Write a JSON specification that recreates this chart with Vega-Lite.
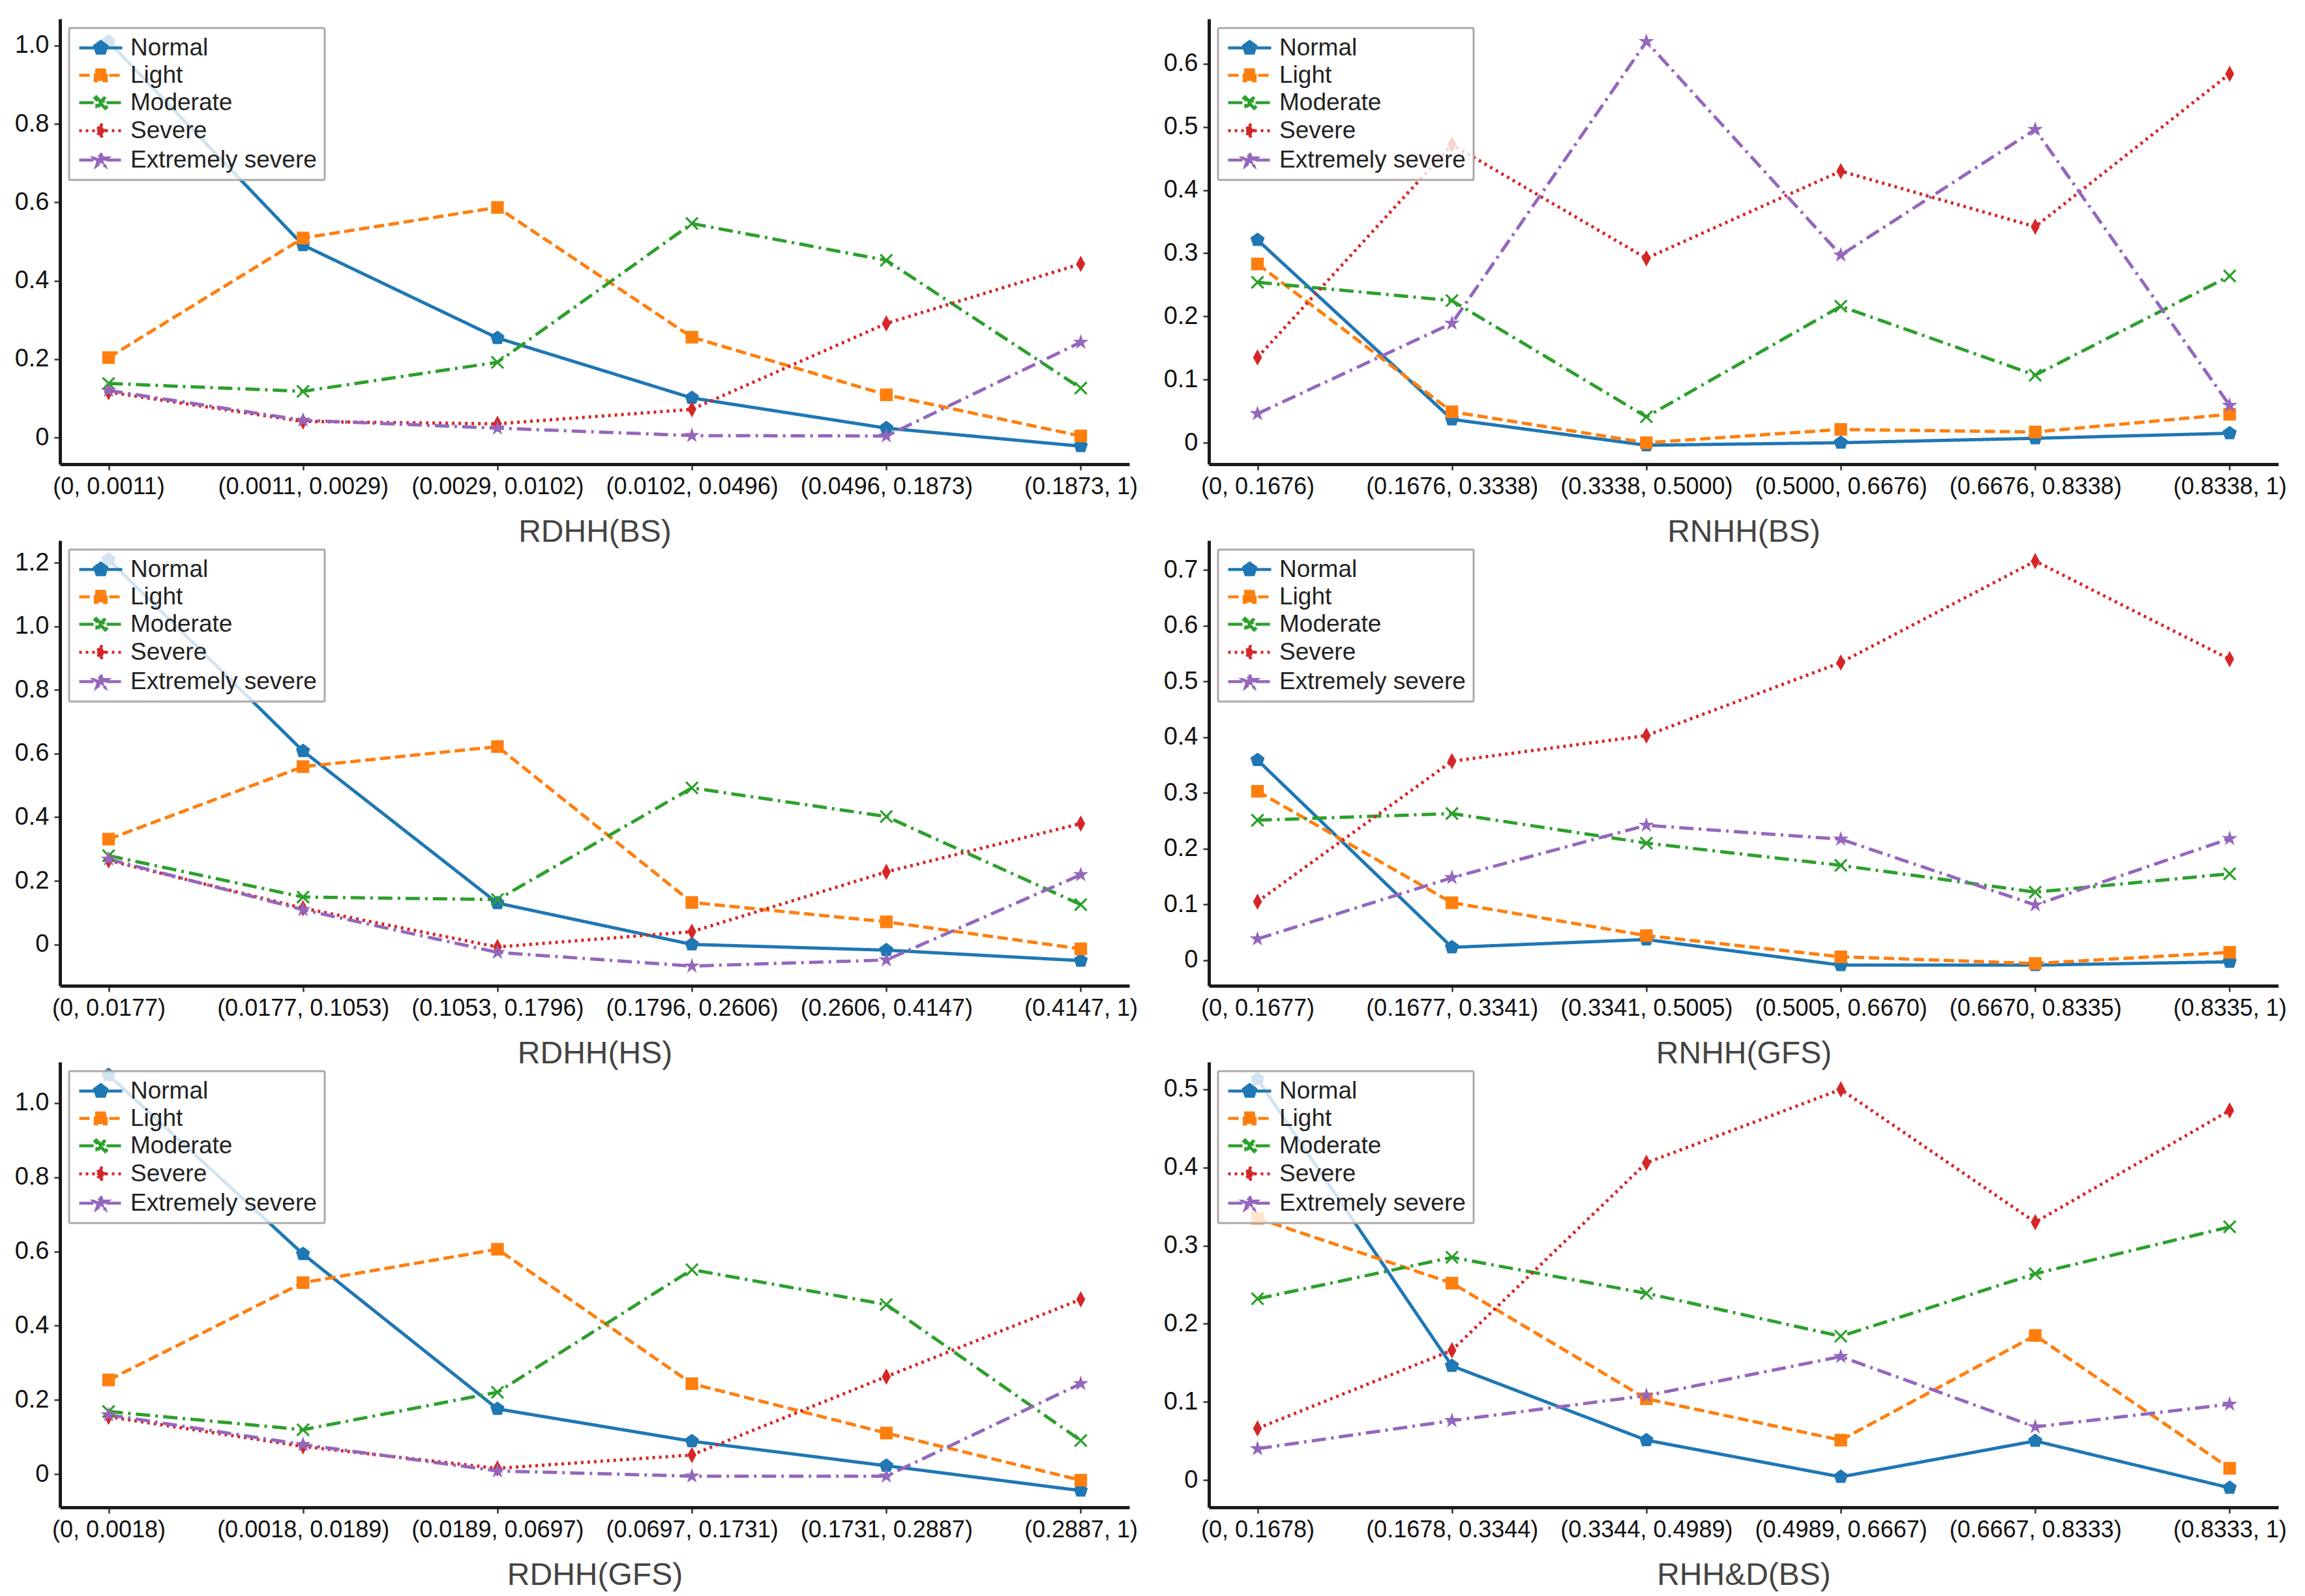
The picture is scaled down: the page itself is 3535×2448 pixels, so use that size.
{
  "$schema": "https://vega.github.io/schema/vega-lite/v6.json",
  "background": "white",
  "padding": {"left": 22, "top": 29, "right": 10, "bottom": 10},
  "bounds": "flush",
  "columns": 2,
  "spacing": {"row": 117, "column": 122},
  "resolve": {"legend": {"color": "independent"}},
  "config": {
    "view": {"stroke": null},
    "axis": {"grid": false, "domainColor": "#1a1a1a", "domainWidth": 5, "tickColor": "#333333", "tickWidth": 2.5, "tickSize": 9, "labelFont": "Liberation Sans", "labelColor": "#111111", "titleFont": "Liberation Sans", "titleColor": "#444444", "titleFontWeight": "normal"},
    "axisX": {"labelFontSize": 36, "labelAngle": 0, "labelPadding": 8, "labelLimit": 600, "titleFontSize": 48, "titlePadding": 28},
    "axisY": {"labelFontSize": 38, "labelPadding": 8},
    "legend": {"orient": "top-left", "offset": 14, "padding": 12, "fillColor": "rgba(255,255,255,0.8)", "strokeColor": "#b0a8a8", "strokeWidth": 3, "cornerRadius": 2, "labelFont": "Liberation Sans", "labelFontSize": 37, "labelColor": "#222222", "labelLimit": 600, "symbolSize": 484, "symbolStrokeWidth": 4, "symbolOffset": 18, "rowPadding": 4, "labelOffset": 27}
  },
  "datasets": {
    "p1": [
      {"interval": "(0, 0.0011)", "level": "Normal", "value": 1.01},
      {"interval": "(0.0011, 0.0029)", "level": "Normal", "value": 0.491},
      {"interval": "(0.0029, 0.0102)", "level": "Normal", "value": 0.254},
      {"interval": "(0.0102, 0.0496)", "level": "Normal", "value": 0.101},
      {"interval": "(0.0496, 0.1873)", "level": "Normal", "value": 0.024},
      {"interval": "(0.1873, 1)", "level": "Normal", "value": -0.022},
      {"interval": "(0, 0.0011)", "level": "Light", "value": 0.204},
      {"interval": "(0.0011, 0.0029)", "level": "Light", "value": 0.509},
      {"interval": "(0.0029, 0.0102)", "level": "Light", "value": 0.587},
      {"interval": "(0.0102, 0.0496)", "level": "Light", "value": 0.256},
      {"interval": "(0.0496, 0.1873)", "level": "Light", "value": 0.109},
      {"interval": "(0.1873, 1)", "level": "Light", "value": 0.004},
      {"interval": "(0, 0.0011)", "level": "Moderate", "value": 0.138},
      {"interval": "(0.0011, 0.0029)", "level": "Moderate", "value": 0.118},
      {"interval": "(0.0029, 0.0102)", "level": "Moderate", "value": 0.192},
      {"interval": "(0.0102, 0.0496)", "level": "Moderate", "value": 0.546},
      {"interval": "(0.0496, 0.1873)", "level": "Moderate", "value": 0.452},
      {"interval": "(0.1873, 1)", "level": "Moderate", "value": 0.126},
      {"interval": "(0, 0.0011)", "level": "Severe", "value": 0.116},
      {"interval": "(0.0011, 0.0029)", "level": "Severe", "value": 0.041},
      {"interval": "(0.0029, 0.0102)", "level": "Severe", "value": 0.035},
      {"interval": "(0.0102, 0.0496)", "level": "Severe", "value": 0.072},
      {"interval": "(0.0496, 0.1873)", "level": "Severe", "value": 0.291},
      {"interval": "(0.1873, 1)", "level": "Severe", "value": 0.443},
      {"interval": "(0, 0.0011)", "level": "Extremely severe", "value": 0.12},
      {"interval": "(0.0011, 0.0029)", "level": "Extremely severe", "value": 0.044},
      {"interval": "(0.0029, 0.0102)", "level": "Extremely severe", "value": 0.024},
      {"interval": "(0.0102, 0.0496)", "level": "Extremely severe", "value": 0.005},
      {"interval": "(0.0496, 0.1873)", "level": "Extremely severe", "value": 0.004},
      {"interval": "(0.1873, 1)", "level": "Extremely severe", "value": 0.243}
    ],
    "p2": [
      {"interval": "(0, 0.1676)", "level": "Normal", "value": 0.321},
      {"interval": "(0.1676, 0.3338)", "level": "Normal", "value": 0.037},
      {"interval": "(0.3338, 0.5000)", "level": "Normal", "value": -0.004},
      {"interval": "(0.5000, 0.6676)", "level": "Normal", "value": 0.0},
      {"interval": "(0.6676, 0.8338)", "level": "Normal", "value": 0.007},
      {"interval": "(0.8338, 1)", "level": "Normal", "value": 0.015},
      {"interval": "(0, 0.1676)", "level": "Light", "value": 0.283},
      {"interval": "(0.1676, 0.3338)", "level": "Light", "value": 0.049},
      {"interval": "(0.3338, 0.5000)", "level": "Light", "value": 0.0},
      {"interval": "(0.5000, 0.6676)", "level": "Light", "value": 0.021},
      {"interval": "(0.6676, 0.8338)", "level": "Light", "value": 0.017},
      {"interval": "(0.8338, 1)", "level": "Light", "value": 0.045},
      {"interval": "(0, 0.1676)", "level": "Moderate", "value": 0.254},
      {"interval": "(0.1676, 0.3338)", "level": "Moderate", "value": 0.225},
      {"interval": "(0.3338, 0.5000)", "level": "Moderate", "value": 0.041},
      {"interval": "(0.5000, 0.6676)", "level": "Moderate", "value": 0.216},
      {"interval": "(0.6676, 0.8338)", "level": "Moderate", "value": 0.107},
      {"interval": "(0.8338, 1)", "level": "Moderate", "value": 0.264},
      {"interval": "(0, 0.1676)", "level": "Severe", "value": 0.135},
      {"interval": "(0.1676, 0.3338)", "level": "Severe", "value": 0.472},
      {"interval": "(0.3338, 0.5000)", "level": "Severe", "value": 0.292},
      {"interval": "(0.5000, 0.6676)", "level": "Severe", "value": 0.43},
      {"interval": "(0.6676, 0.8338)", "level": "Severe", "value": 0.342},
      {"interval": "(0.8338, 1)", "level": "Severe", "value": 0.584},
      {"interval": "(0, 0.1676)", "level": "Extremely severe", "value": 0.046},
      {"interval": "(0.1676, 0.3338)", "level": "Extremely severe", "value": 0.189},
      {"interval": "(0.3338, 0.5000)", "level": "Extremely severe", "value": 0.635},
      {"interval": "(0.5000, 0.6676)", "level": "Extremely severe", "value": 0.297},
      {"interval": "(0.6676, 0.8338)", "level": "Extremely severe", "value": 0.496},
      {"interval": "(0.8338, 1)", "level": "Extremely severe", "value": 0.059}
    ],
    "p3": [
      {"interval": "(0, 0.0177)", "level": "Normal", "value": 1.21},
      {"interval": "(0.0177, 0.1053)", "level": "Normal", "value": 0.608},
      {"interval": "(0.1053, 0.1796)", "level": "Normal", "value": 0.13},
      {"interval": "(0.1796, 0.2606)", "level": "Normal", "value": 0.0},
      {"interval": "(0.2606, 0.4147)", "level": "Normal", "value": -0.018},
      {"interval": "(0.4147, 1)", "level": "Normal", "value": -0.051},
      {"interval": "(0, 0.0177)", "level": "Light", "value": 0.331},
      {"interval": "(0.0177, 0.1053)", "level": "Light", "value": 0.559},
      {"interval": "(0.1053, 0.1796)", "level": "Light", "value": 0.622},
      {"interval": "(0.1796, 0.2606)", "level": "Light", "value": 0.132},
      {"interval": "(0.2606, 0.4147)", "level": "Light", "value": 0.071},
      {"interval": "(0.4147, 1)", "level": "Light", "value": -0.014},
      {"interval": "(0, 0.0177)", "level": "Moderate", "value": 0.279},
      {"interval": "(0.0177, 0.1053)", "level": "Moderate", "value": 0.149},
      {"interval": "(0.1053, 0.1796)", "level": "Moderate", "value": 0.141},
      {"interval": "(0.1796, 0.2606)", "level": "Moderate", "value": 0.492},
      {"interval": "(0.2606, 0.4147)", "level": "Moderate", "value": 0.402},
      {"interval": "(0.4147, 1)", "level": "Moderate", "value": 0.125},
      {"interval": "(0, 0.0177)", "level": "Severe", "value": 0.264},
      {"interval": "(0.0177, 0.1053)", "level": "Severe", "value": 0.114},
      {"interval": "(0.1053, 0.1796)", "level": "Severe", "value": -0.008},
      {"interval": "(0.1796, 0.2606)", "level": "Severe", "value": 0.04},
      {"interval": "(0.2606, 0.4147)", "level": "Severe", "value": 0.228},
      {"interval": "(0.4147, 1)", "level": "Severe", "value": 0.38},
      {"interval": "(0, 0.0177)", "level": "Extremely severe", "value": 0.268},
      {"interval": "(0.0177, 0.1053)", "level": "Extremely severe", "value": 0.109},
      {"interval": "(0.1053, 0.1796)", "level": "Extremely severe", "value": -0.025},
      {"interval": "(0.1796, 0.2606)", "level": "Extremely severe", "value": -0.068},
      {"interval": "(0.2606, 0.4147)", "level": "Extremely severe", "value": -0.049},
      {"interval": "(0.4147, 1)", "level": "Extremely severe", "value": 0.219}
    ],
    "p4": [
      {"interval": "(0, 0.1677)", "level": "Normal", "value": 0.359},
      {"interval": "(0.1677, 0.3341)", "level": "Normal", "value": 0.023},
      {"interval": "(0.3341, 0.5005)", "level": "Normal", "value": 0.037},
      {"interval": "(0.5005, 0.6670)", "level": "Normal", "value": -0.009},
      {"interval": "(0.6670, 0.8335)", "level": "Normal", "value": -0.009},
      {"interval": "(0.8335, 1)", "level": "Normal", "value": -0.003},
      {"interval": "(0, 0.1677)", "level": "Light", "value": 0.303},
      {"interval": "(0.1677, 0.3341)", "level": "Light", "value": 0.103},
      {"interval": "(0.3341, 0.5005)", "level": "Light", "value": 0.044},
      {"interval": "(0.5005, 0.6670)", "level": "Light", "value": 0.006},
      {"interval": "(0.6670, 0.8335)", "level": "Light", "value": -0.006},
      {"interval": "(0.8335, 1)", "level": "Light", "value": 0.014},
      {"interval": "(0, 0.1677)", "level": "Moderate", "value": 0.251},
      {"interval": "(0.1677, 0.3341)", "level": "Moderate", "value": 0.263},
      {"interval": "(0.3341, 0.5005)", "level": "Moderate", "value": 0.21},
      {"interval": "(0.5005, 0.6670)", "level": "Moderate", "value": 0.17},
      {"interval": "(0.6670, 0.8335)", "level": "Moderate", "value": 0.122},
      {"interval": "(0.8335, 1)", "level": "Moderate", "value": 0.155},
      {"interval": "(0, 0.1677)", "level": "Severe", "value": 0.105},
      {"interval": "(0.1677, 0.3341)", "level": "Severe", "value": 0.357},
      {"interval": "(0.3341, 0.5005)", "level": "Severe", "value": 0.403},
      {"interval": "(0.5005, 0.6670)", "level": "Severe", "value": 0.534},
      {"interval": "(0.6670, 0.8335)", "level": "Severe", "value": 0.716},
      {"interval": "(0.8335, 1)", "level": "Severe", "value": 0.54},
      {"interval": "(0, 0.1677)", "level": "Extremely severe", "value": 0.038},
      {"interval": "(0.1677, 0.3341)", "level": "Extremely severe", "value": 0.148},
      {"interval": "(0.3341, 0.5005)", "level": "Extremely severe", "value": 0.242},
      {"interval": "(0.5005, 0.6670)", "level": "Extremely severe", "value": 0.217},
      {"interval": "(0.6670, 0.8335)", "level": "Extremely severe", "value": 0.099},
      {"interval": "(0.8335, 1)", "level": "Extremely severe", "value": 0.218}
    ],
    "p5": [
      {"interval": "(0, 0.0018)", "level": "Normal", "value": 1.075},
      {"interval": "(0.0018, 0.0189)", "level": "Normal", "value": 0.593},
      {"interval": "(0.0189, 0.0697)", "level": "Normal", "value": 0.176},
      {"interval": "(0.0697, 0.1731)", "level": "Normal", "value": 0.089},
      {"interval": "(0.1731, 0.2887)", "level": "Normal", "value": 0.023},
      {"interval": "(0.2887, 1)", "level": "Normal", "value": -0.044},
      {"interval": "(0, 0.0018)", "level": "Light", "value": 0.254},
      {"interval": "(0.0018, 0.0189)", "level": "Light", "value": 0.516},
      {"interval": "(0.0189, 0.0697)", "level": "Light", "value": 0.606},
      {"interval": "(0.0697, 0.1731)", "level": "Light", "value": 0.244},
      {"interval": "(0.1731, 0.2887)", "level": "Light", "value": 0.111},
      {"interval": "(0.2887, 1)", "level": "Light", "value": -0.016},
      {"interval": "(0, 0.0018)", "level": "Moderate", "value": 0.169},
      {"interval": "(0.0018, 0.0189)", "level": "Moderate", "value": 0.12},
      {"interval": "(0.0189, 0.0697)", "level": "Moderate", "value": 0.221},
      {"interval": "(0.0697, 0.1731)", "level": "Moderate", "value": 0.551},
      {"interval": "(0.1731, 0.2887)", "level": "Moderate", "value": 0.457},
      {"interval": "(0.2887, 1)", "level": "Moderate", "value": 0.091},
      {"interval": "(0, 0.0018)", "level": "Severe", "value": 0.155},
      {"interval": "(0.0018, 0.0189)", "level": "Severe", "value": 0.075},
      {"interval": "(0.0189, 0.0697)", "level": "Severe", "value": 0.016},
      {"interval": "(0.0697, 0.1731)", "level": "Severe", "value": 0.052},
      {"interval": "(0.1731, 0.2887)", "level": "Severe", "value": 0.263},
      {"interval": "(0.2887, 1)", "level": "Severe", "value": 0.471},
      {"interval": "(0, 0.0018)", "level": "Extremely severe", "value": 0.16},
      {"interval": "(0.0018, 0.0189)", "level": "Extremely severe", "value": 0.08},
      {"interval": "(0.0189, 0.0697)", "level": "Extremely severe", "value": 0.009},
      {"interval": "(0.0697, 0.1731)", "level": "Extremely severe", "value": -0.005},
      {"interval": "(0.1731, 0.2887)", "level": "Extremely severe", "value": -0.005},
      {"interval": "(0.2887, 1)", "level": "Extremely severe", "value": 0.244}
    ],
    "p6": [
      {"interval": "(0, 0.1678)", "level": "Normal", "value": 0.513},
      {"interval": "(0.1678, 0.3344)", "level": "Normal", "value": 0.146},
      {"interval": "(0.3344, 0.4989)", "level": "Normal", "value": 0.051},
      {"interval": "(0.4989, 0.6667)", "level": "Normal", "value": 0.004},
      {"interval": "(0.6667, 0.8333)", "level": "Normal", "value": 0.05},
      {"interval": "(0.8333, 1)", "level": "Normal", "value": -0.01},
      {"interval": "(0, 0.1678)", "level": "Light", "value": 0.335},
      {"interval": "(0.1678, 0.3344)", "level": "Light", "value": 0.252},
      {"interval": "(0.3344, 0.4989)", "level": "Light", "value": 0.104},
      {"interval": "(0.4989, 0.6667)", "level": "Light", "value": 0.051},
      {"interval": "(0.6667, 0.8333)", "level": "Light", "value": 0.185},
      {"interval": "(0.8333, 1)", "level": "Light", "value": 0.015},
      {"interval": "(0, 0.1678)", "level": "Moderate", "value": 0.232},
      {"interval": "(0.1678, 0.3344)", "level": "Moderate", "value": 0.285},
      {"interval": "(0.3344, 0.4989)", "level": "Moderate", "value": 0.239},
      {"interval": "(0.4989, 0.6667)", "level": "Moderate", "value": 0.184},
      {"interval": "(0.6667, 0.8333)", "level": "Moderate", "value": 0.264},
      {"interval": "(0.8333, 1)", "level": "Moderate", "value": 0.324},
      {"interval": "(0, 0.1678)", "level": "Severe", "value": 0.066},
      {"interval": "(0.1678, 0.3344)", "level": "Severe", "value": 0.166},
      {"interval": "(0.3344, 0.4989)", "level": "Severe", "value": 0.406},
      {"interval": "(0.4989, 0.6667)", "level": "Severe", "value": 0.5},
      {"interval": "(0.6667, 0.8333)", "level": "Severe", "value": 0.33},
      {"interval": "(0.8333, 1)", "level": "Severe", "value": 0.473},
      {"interval": "(0, 0.1678)", "level": "Extremely severe", "value": 0.04},
      {"interval": "(0.1678, 0.3344)", "level": "Extremely severe", "value": 0.076},
      {"interval": "(0.3344, 0.4989)", "level": "Extremely severe", "value": 0.108},
      {"interval": "(0.4989, 0.6667)", "level": "Extremely severe", "value": 0.158},
      {"interval": "(0.6667, 0.8333)", "level": "Extremely severe", "value": 0.068},
      {"interval": "(0.8333, 1)", "level": "Extremely severe", "value": 0.097}
    ]
  },
  "concat": [
    {
      "data": {"name": "p1"}, "width": 1640, "height": 683,
      "encoding": {
        "x": {"field": "interval", "type": "nominal", "sort": null, "title": "RDHH(BS)", "scale": {"type": "point", "padding": 0.25}},
        "y": {"field": "value", "type": "quantitative", "title": null, "scale": {"domain": [-0.068, 1.068], "nice": false, "zero": false}, "axis": {"values": [0, 0.2, 0.4, 0.6, 0.8, 1.0], "labelExpr": "datum.value === 0 ? '0' : format(datum.value, '.1f')"}},
        "color": {"field": "level", "type": "nominal", "scale": {"domain": ["Normal", "Light", "Moderate", "Severe", "Extremely severe"], "range": ["#1f77b4", "#ff7f0e", "#2ca02c", "#d62728", "#9467bd"]},
          "legend": {"title": null, "encoding": {"symbols": {
            "fill": {"value": {"expr": "scale('color', datum.value)"}},
            "stroke": {"value": {"expr": "scale('color', datum.value)"}},
            "strokeDash": {"value": {"expr": "scale('strokeDash', datum.value)"}},
            "strokeWidth": {"value": 4.5},
            "shape": {"value": {"expr": "datum.value === 'Normal' ? 'M-3,0H3M0,-0.9L0.855,-0.279L0.528,0.729L-0.528,0.729L-0.855,-0.279Z' : datum.value === 'Light' ? 'M-3,0H3M-0.765,-0.765H0.765V0.765H-0.765Z' : datum.value === 'Moderate' ? 'M-3,0H3M-0.81,-0.63L-0.63,-0.81L0,-0.18L0.63,-0.81L0.81,-0.63L0.18,0L0.81,0.63L0.63,0.81L0,0.18L-0.63,0.81L-0.81,0.63L-0.18,0Z' : datum.value === 'Severe' ? 'M-3,0H3M0,-0.99L0.54,0L0,0.99L-0.54,0Z' : 'M-3,0H3M0,-0.99L0.225,-0.306L0.945,-0.306L0.36,0.117L0.585,0.801L0,0.378L-0.585,0.801L-0.36,0.117L-0.945,-0.306L-0.225,-0.306Z'"}}
          }}}
        }
      },
      "layer": [
        {"mark": {"type": "line", "strokeWidth": 5}, "encoding": {"strokeDash": {"field": "level", "type": "nominal", "legend": null, "scale": {"domain": ["Normal", "Light", "Moderate", "Severe", "Extremely severe"], "range": [[1, 0], [16, 7], [22, 8, 4, 8], [4, 6], [22, 8, 4, 8]]}}}},
        {"mark": {"type": "point", "filled": true, "size": 520, "opacity": 1}, "encoding": {"shape": {"field": "level", "type": "nominal", "legend": null, "scale": {"domain": ["Normal", "Light", "Moderate", "Severe", "Extremely severe"], "range": ["M0,-1L0.951,-0.309L0.588,0.809L-0.588,0.809L-0.951,-0.309Z", "M-0.85,-0.85H0.85V0.85H-0.85Z", "M-0.9,-0.7L-0.7,-0.9L0,-0.2L0.7,-0.9L0.9,-0.7L0.2,0L0.9,0.7L0.7,0.9L0,0.2L-0.7,0.9L-0.9,0.7L-0.2,0Z", "M0,-1.1L0.6,0L0,1.1L-0.6,0Z", "M0,-1.1L0.25,-0.34L1.05,-0.34L0.4,0.13L0.65,0.89L0,0.42L-0.65,0.89L-0.4,0.13L-1.05,-0.34L-0.25,-0.34Z"]}}}}
      ]
    },
    {
      "data": {"name": "p2"}, "width": 1640, "height": 683,
      "encoding": {
        "x": {"field": "interval", "type": "nominal", "sort": null, "title": "RNHH(BS)", "scale": {"type": "point", "padding": 0.25}},
        "y": {"field": "value", "type": "quantitative", "title": null, "scale": {"domain": [-0.034, 0.671], "nice": false, "zero": false}, "axis": {"values": [0, 0.1, 0.2, 0.3, 0.4, 0.5, 0.6], "labelExpr": "datum.value === 0 ? '0' : format(datum.value, '.1f')"}},
        "color": {"field": "level", "type": "nominal",
          "legend": {"title": null, "encoding": {"symbols": {
            "fill": {"value": {"expr": "scale('color', datum.value)"}},
            "stroke": {"value": {"expr": "scale('color', datum.value)"}},
            "strokeDash": {"value": {"expr": "scale('strokeDash', datum.value)"}},
            "strokeWidth": {"value": 4.5},
            "shape": {"value": {"expr": "datum.value === 'Normal' ? 'M-3,0H3M0,-0.9L0.855,-0.279L0.528,0.729L-0.528,0.729L-0.855,-0.279Z' : datum.value === 'Light' ? 'M-3,0H3M-0.765,-0.765H0.765V0.765H-0.765Z' : datum.value === 'Moderate' ? 'M-3,0H3M-0.81,-0.63L-0.63,-0.81L0,-0.18L0.63,-0.81L0.81,-0.63L0.18,0L0.81,0.63L0.63,0.81L0,0.18L-0.63,0.81L-0.81,0.63L-0.18,0Z' : datum.value === 'Severe' ? 'M-3,0H3M0,-0.99L0.54,0L0,0.99L-0.54,0Z' : 'M-3,0H3M0,-0.99L0.225,-0.306L0.945,-0.306L0.36,0.117L0.585,0.801L0,0.378L-0.585,0.801L-0.36,0.117L-0.945,-0.306L-0.225,-0.306Z'"}}
          }}}
        }
      },
      "layer": [
        {"mark": {"type": "line", "strokeWidth": 5}, "encoding": {"strokeDash": {"field": "level", "type": "nominal", "legend": null}}},
        {"mark": {"type": "point", "filled": true, "size": 520, "opacity": 1}, "encoding": {"shape": {"field": "level", "type": "nominal", "legend": null}}}
      ]
    },
    {
      "data": {"name": "p3"}, "width": 1640, "height": 683,
      "encoding": {
        "x": {"field": "interval", "type": "nominal", "sort": null, "title": "RDHH(HS)", "scale": {"type": "point", "padding": 0.25}},
        "y": {"field": "value", "type": "quantitative", "title": null, "scale": {"domain": [-0.13, 1.27], "nice": false, "zero": false}, "axis": {"values": [0, 0.2, 0.4, 0.6, 0.8, 1.0, 1.2], "labelExpr": "datum.value === 0 ? '0' : format(datum.value, '.1f')"}},
        "color": {"field": "level", "type": "nominal",
          "legend": {"title": null, "encoding": {"symbols": {
            "fill": {"value": {"expr": "scale('color', datum.value)"}},
            "stroke": {"value": {"expr": "scale('color', datum.value)"}},
            "strokeDash": {"value": {"expr": "scale('strokeDash', datum.value)"}},
            "strokeWidth": {"value": 4.5},
            "shape": {"value": {"expr": "datum.value === 'Normal' ? 'M-3,0H3M0,-0.9L0.855,-0.279L0.528,0.729L-0.528,0.729L-0.855,-0.279Z' : datum.value === 'Light' ? 'M-3,0H3M-0.765,-0.765H0.765V0.765H-0.765Z' : datum.value === 'Moderate' ? 'M-3,0H3M-0.81,-0.63L-0.63,-0.81L0,-0.18L0.63,-0.81L0.81,-0.63L0.18,0L0.81,0.63L0.63,0.81L0,0.18L-0.63,0.81L-0.81,0.63L-0.18,0Z' : datum.value === 'Severe' ? 'M-3,0H3M0,-0.99L0.54,0L0,0.99L-0.54,0Z' : 'M-3,0H3M0,-0.99L0.225,-0.306L0.945,-0.306L0.36,0.117L0.585,0.801L0,0.378L-0.585,0.801L-0.36,0.117L-0.945,-0.306L-0.225,-0.306Z'"}}
          }}}
        }
      },
      "layer": [
        {"mark": {"type": "line", "strokeWidth": 5}, "encoding": {"strokeDash": {"field": "level", "type": "nominal", "legend": null}}},
        {"mark": {"type": "point", "filled": true, "size": 520, "opacity": 1}, "encoding": {"shape": {"field": "level", "type": "nominal", "legend": null}}}
      ]
    },
    {
      "data": {"name": "p4"}, "width": 1640, "height": 683,
      "encoding": {
        "x": {"field": "interval", "type": "nominal", "sort": null, "title": "RNHH(GFS)", "scale": {"type": "point", "padding": 0.25}},
        "y": {"field": "value", "type": "quantitative", "title": null, "scale": {"domain": [-0.046, 0.753], "nice": false, "zero": false}, "axis": {"values": [0, 0.1, 0.2, 0.3, 0.4, 0.5, 0.6, 0.7], "labelExpr": "datum.value === 0 ? '0' : format(datum.value, '.1f')"}},
        "color": {"field": "level", "type": "nominal",
          "legend": {"title": null, "encoding": {"symbols": {
            "fill": {"value": {"expr": "scale('color', datum.value)"}},
            "stroke": {"value": {"expr": "scale('color', datum.value)"}},
            "strokeDash": {"value": {"expr": "scale('strokeDash', datum.value)"}},
            "strokeWidth": {"value": 4.5},
            "shape": {"value": {"expr": "datum.value === 'Normal' ? 'M-3,0H3M0,-0.9L0.855,-0.279L0.528,0.729L-0.528,0.729L-0.855,-0.279Z' : datum.value === 'Light' ? 'M-3,0H3M-0.765,-0.765H0.765V0.765H-0.765Z' : datum.value === 'Moderate' ? 'M-3,0H3M-0.81,-0.63L-0.63,-0.81L0,-0.18L0.63,-0.81L0.81,-0.63L0.18,0L0.81,0.63L0.63,0.81L0,0.18L-0.63,0.81L-0.81,0.63L-0.18,0Z' : datum.value === 'Severe' ? 'M-3,0H3M0,-0.99L0.54,0L0,0.99L-0.54,0Z' : 'M-3,0H3M0,-0.99L0.225,-0.306L0.945,-0.306L0.36,0.117L0.585,0.801L0,0.378L-0.585,0.801L-0.36,0.117L-0.945,-0.306L-0.225,-0.306Z'"}}
          }}}
        }
      },
      "layer": [
        {"mark": {"type": "line", "strokeWidth": 5}, "encoding": {"strokeDash": {"field": "level", "type": "nominal", "legend": null}}},
        {"mark": {"type": "point", "filled": true, "size": 520, "opacity": 1}, "encoding": {"shape": {"field": "level", "type": "nominal", "legend": null}}}
      ]
    },
    {
      "data": {"name": "p5"}, "width": 1640, "height": 683,
      "encoding": {
        "x": {"field": "interval", "type": "nominal", "sort": null, "title": "RDHH(GFS)", "scale": {"type": "point", "padding": 0.25}},
        "y": {"field": "value", "type": "quantitative", "title": null, "scale": {"domain": [-0.089, 1.11], "nice": false, "zero": false}, "axis": {"values": [0, 0.2, 0.4, 0.6, 0.8, 1.0], "labelExpr": "datum.value === 0 ? '0' : format(datum.value, '.1f')"}},
        "color": {"field": "level", "type": "nominal",
          "legend": {"title": null, "encoding": {"symbols": {
            "fill": {"value": {"expr": "scale('color', datum.value)"}},
            "stroke": {"value": {"expr": "scale('color', datum.value)"}},
            "strokeDash": {"value": {"expr": "scale('strokeDash', datum.value)"}},
            "strokeWidth": {"value": 4.5},
            "shape": {"value": {"expr": "datum.value === 'Normal' ? 'M-3,0H3M0,-0.9L0.855,-0.279L0.528,0.729L-0.528,0.729L-0.855,-0.279Z' : datum.value === 'Light' ? 'M-3,0H3M-0.765,-0.765H0.765V0.765H-0.765Z' : datum.value === 'Moderate' ? 'M-3,0H3M-0.81,-0.63L-0.63,-0.81L0,-0.18L0.63,-0.81L0.81,-0.63L0.18,0L0.81,0.63L0.63,0.81L0,0.18L-0.63,0.81L-0.81,0.63L-0.18,0Z' : datum.value === 'Severe' ? 'M-3,0H3M0,-0.99L0.54,0L0,0.99L-0.54,0Z' : 'M-3,0H3M0,-0.99L0.225,-0.306L0.945,-0.306L0.36,0.117L0.585,0.801L0,0.378L-0.585,0.801L-0.36,0.117L-0.945,-0.306L-0.225,-0.306Z'"}}
          }}}
        }
      },
      "layer": [
        {"mark": {"type": "line", "strokeWidth": 5}, "encoding": {"strokeDash": {"field": "level", "type": "nominal", "legend": null}}},
        {"mark": {"type": "point", "filled": true, "size": 520, "opacity": 1}, "encoding": {"shape": {"field": "level", "type": "nominal", "legend": null}}}
      ]
    },
    {
      "data": {"name": "p6"}, "width": 1640, "height": 683,
      "encoding": {
        "x": {"field": "interval", "type": "nominal", "sort": null, "title": "RHH&D(BS)", "scale": {"type": "point", "padding": 0.25}},
        "y": {"field": "value", "type": "quantitative", "title": null, "scale": {"domain": [-0.035, 0.535], "nice": false, "zero": false}, "axis": {"values": [0, 0.1, 0.2, 0.3, 0.4, 0.5], "labelExpr": "datum.value === 0 ? '0' : format(datum.value, '.1f')"}},
        "color": {"field": "level", "type": "nominal",
          "legend": {"title": null, "encoding": {"symbols": {
            "fill": {"value": {"expr": "scale('color', datum.value)"}},
            "stroke": {"value": {"expr": "scale('color', datum.value)"}},
            "strokeDash": {"value": {"expr": "scale('strokeDash', datum.value)"}},
            "strokeWidth": {"value": 4.5},
            "shape": {"value": {"expr": "datum.value === 'Normal' ? 'M-3,0H3M0,-0.9L0.855,-0.279L0.528,0.729L-0.528,0.729L-0.855,-0.279Z' : datum.value === 'Light' ? 'M-3,0H3M-0.765,-0.765H0.765V0.765H-0.765Z' : datum.value === 'Moderate' ? 'M-3,0H3M-0.81,-0.63L-0.63,-0.81L0,-0.18L0.63,-0.81L0.81,-0.63L0.18,0L0.81,0.63L0.63,0.81L0,0.18L-0.63,0.81L-0.81,0.63L-0.18,0Z' : datum.value === 'Severe' ? 'M-3,0H3M0,-0.99L0.54,0L0,0.99L-0.54,0Z' : 'M-3,0H3M0,-0.99L0.225,-0.306L0.945,-0.306L0.36,0.117L0.585,0.801L0,0.378L-0.585,0.801L-0.36,0.117L-0.945,-0.306L-0.225,-0.306Z'"}}
          }}}
        }
      },
      "layer": [
        {"mark": {"type": "line", "strokeWidth": 5}, "encoding": {"strokeDash": {"field": "level", "type": "nominal", "legend": null}}},
        {"mark": {"type": "point", "filled": true, "size": 520, "opacity": 1}, "encoding": {"shape": {"field": "level", "type": "nominal", "legend": null}}}
      ]
    }
  ]
}
